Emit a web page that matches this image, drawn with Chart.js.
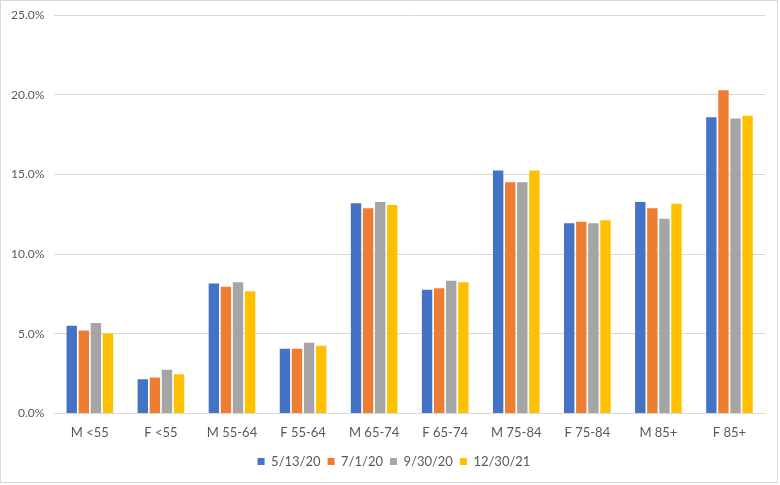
<!DOCTYPE html>
<html>
<head>
<meta charset="utf-8">
<script src="https://cdn.jsdelivr.net/npm/chart.js@4"></script>
<style>
  html, body { margin: 0; padding: 0; background: #fff; }
  #wrap {
    position: absolute; left: 0; top: 0;
    width: 776px; height: 481px;
    border: 1px solid #d9d9d9;
    background: #fff;
  }
</style>
</head>
<body>
<div id="wrap"><canvas id="ageChart"></canvas></div>
<script>
const categories = ['M <55', 'F <55', 'M 55-64', 'F 55-64', 'M 65-74', 'F 65-74', 'M 75-84', 'F 75-84', 'M 85+', 'F 85+'];
const seriesNames = ['5/13/20', '7/1/20', '9/30/20', '12/30/21'];
const seriesColors = ['#4472C4', '#ED7D31', '#A5A5A5', '#FFC000'];

// values in percent
const may13 = [5.5, 2.15, 8.15, 4.06, 13.18, 7.76, 15.25, 11.93, 13.27, 18.58];
const jul1  = [5.2, 2.26, 7.95, 4.06, 12.88, 7.85, 14.5, 12.03, 12.87, 20.28];
const sep30 = [5.67, 2.74, 8.23, 4.43, 13.27, 8.33, 14.5, 11.93, 12.22, 18.5];
const dec30 = [5.02, 2.45, 7.66, 4.25, 13.08, 8.23, 15.25, 12.12, 13.16, 18.68];

const yTicks = [0, 5, 10, 15, 20, 25];

// legend sits a bit right of centre in the original
const nudgeLegend = {
  id: 'nudgeLegend',
  afterLayout(chart) {
    chart.legend.left += 11;
    chart.legend.right += 11;
  }
};

document.addEventListener('DOMContentLoaded', () => {
  const ctx = document.getElementById('ageChart').getContext('2d');
  const all = [may13, jul1, sep30, dec30];

  Chart.defaults.font.family = 'Lato, "Liberation Sans", sans-serif';
  Chart.defaults.font.size = 12;
  Chart.defaults.color = '#595959';

  new Chart(ctx, {
    type: 'bar',
    data: {
      labels: categories,
      datasets: all.map((vals, i) => ({
        label: seriesNames[i],
        data: vals,
        backgroundColor: seriesColors[i],
        borderWidth: 0,
        categoryPercentage: 0.68,
        barPercentage: 0.86
      }))
    },
    options: {
      responsive: true,
      maintainAspectRatio: false,
      animation: false,
      layout: { padding: { top: 0, right: 12, left: 0, bottom: 4 } },
      plugins: {
        legend: {
          position: 'bottom',
          labels: { boxWidth: 7, boxHeight: 7, padding: 7, color: '#595959', font: { size: 13 } }
        },
        tooltip: { enabled: false }
      },
      scales: {
        x: {
          grid: { display: false, drawTicks: false },
          border: { color: '#d9d9d9' },
          ticks: { padding: 12, color: '#595959', font: { size: 13 } },
          afterFit: s => { s.height -= 5; }
        },
        y: {
          min: 0,
          max: 25,
          afterBuildTicks: s => { s.ticks = yTicks.map(v => ({ value: v })); },
          afterFit: s => { s.paddingTop = 14; },
          grid: { color: '#d9d9d9', drawTicks: false },
          border: { display: false },
          ticks: {
            padding: 10,
            color: '#595959',
            callback: v => v.toFixed(1) + '%'
          }
        }
      }
    },
    plugins: [nudgeLegend]
  });
});
</script>
</body>
</html>
